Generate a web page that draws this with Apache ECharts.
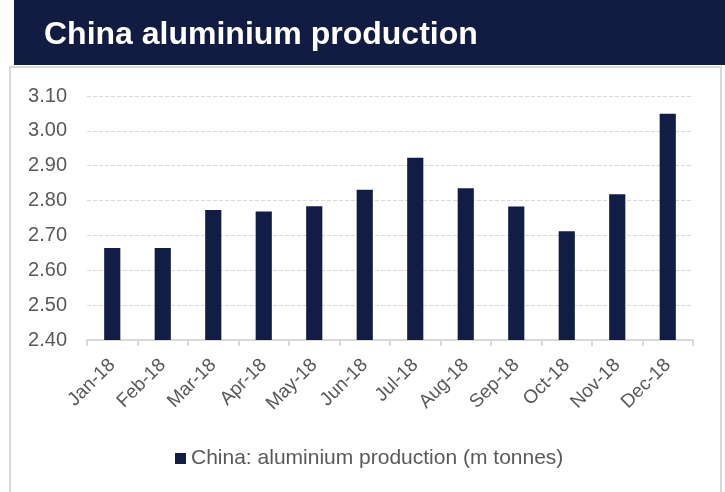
<!DOCTYPE html>
<html>
<head>
<meta charset="utf-8">
<script src="https://cdn.jsdelivr.net/npm/echarts@6/dist/echarts.min.js"></script>
<style>
html,body{margin:0;padding:0;background:#fff;}
#c{width:725px;height:492px;}
</style>
</head>
<body>
<div id="c"></div>
<script>
const titleText = "China aluminium production";
const seriesName = "China: aluminium production (m tonnes)";
const categories = ["Jan-18","Feb-18","Mar-18","Apr-18","May-18","Jun-18","Jul-18","Aug-18","Sep-18","Oct-18","Nov-18","Dec-18"];
const values = [2.664, 2.664, 2.773, 2.769, 2.784, 2.831, 2.923, 2.835, 2.783, 2.712, 2.818, 3.049];
const yMin = 2.4, yMax = 3.1, yInterval = 0.1;

const chart = echarts.init(document.getElementById('c'), null, {renderer:'canvas'});
const font = "Liberation Sans, Arial, sans-serif";
chart.setOption({
  backgroundColor:'#ffffff',
  textStyle:{fontFamily:font},
  animation:false,
  graphic:[
    {type:'rect', shape:{x:10,y:67,width:711,height:440}, style:{fill:'#ffffff', stroke:'#d9d9d9', lineWidth:2}, z:-1},
    {type:'rect', shape:{x:14,y:0,width:711,height:65}, style:{fill:'#121c42'}, z:0},
    {type:'text', left:44, top:19, style:{text:titleText, fill:'#ffffff', font:'bold 32px '+font}, z:1}
  ],
  grid:{left:87, right:32, top:96, bottom:152},
  legend:{
    top:443, left:170,
    itemWidth:11, itemHeight:11, itemGap:5,
    icon:'rect',
    textStyle:{color:'#595959', fontSize:21, fontFamily:font},
    data:[seriesName]
  },
  xAxis:{
    type:'category', data:categories,
    axisLine:{lineStyle:{color:'#d9d9d9', width:2}},
    axisTick:{show:true, length:6, lineStyle:{color:'#d9d9d9', width:2}},
    axisLabel:{rotate:45, color:'#595959', fontSize:19, margin:22, interval:0, fontFamily:font}
  },
  yAxis:{
    type:'value', min:yMin, max:yMax, interval:yInterval,
    axisLine:{show:false}, axisTick:{show:false},
    splitLine:{lineStyle:{color:'#d9d9d9', type:'dashed'}},
    axisLabel:{color:'#595959', fontSize:20, margin:20, formatter:v=>v.toFixed(2), fontFamily:font}
  },
  series:[{
    name:seriesName, type:'bar', data:values,
    barWidth:'32%',
    itemStyle:{color:'#111d45'}
  }]
});
</script>
</body>
</html>
